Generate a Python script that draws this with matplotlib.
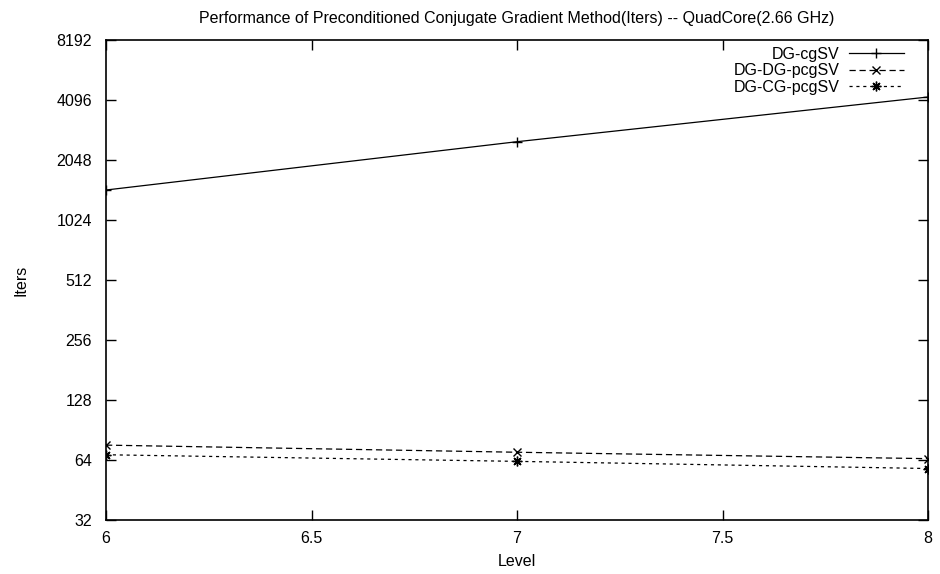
import matplotlib
matplotlib.use("Agg")
import matplotlib.pyplot as plt
from matplotlib.ticker import FixedLocator, FixedFormatter, NullLocator

plt.rcParams['font.family'] = ['Liberation Sans', 'DejaVu Sans']

levels = [6, 7, 8]
dg_cgsv = [1448, 2530, 4240]
dg_dg_pcgsv = [76, 70, 65]
dg_cg_pcgsv = [68, 63, 58]

x_ticks = [6, 6.5, 7, 7.5, 8]
x_tick_labels = ["6", "6.5", "7", "7.5", "8"]
y_ticks = [32, 64, 128, 256, 512, 1024, 2048, 4096, 8192]
y_tick_labels = [str(v) for v in y_ticks]

FS = 11.5

fig = plt.figure(figsize=(9.4, 5.74), dpi=100)
ax = fig.add_axes([106/940, 1-520/574, (928-106)/940, (520-40)/574])

ax.plot(levels, dg_cgsv, color='black', lw=0.9, ls='-', marker='+', ms=7, mew=1.0, label='DG-cgSV')
ax.plot(levels, dg_dg_pcgsv, color='black', lw=0.9, ls=(0, (5, 3)), marker='x', ms=6, mew=1.0, label='DG-DG-pcgSV')
ax.plot(levels, dg_cg_pcgsv, color='black', lw=0.9, ls=(0, (2.5, 3)), marker=(8, 2, 0), ms=7, mew=1.0, label='DG-CG-pcgSV')

ax.set_yscale('log', base=2)
ax.set_xlim(6, 8)
ax.set_ylim(32, 8192)
ax.xaxis.set_major_locator(FixedLocator(x_ticks))
ax.xaxis.set_major_formatter(FixedFormatter(x_tick_labels))
ax.yaxis.set_major_locator(FixedLocator(y_ticks))
ax.yaxis.set_major_formatter(FixedFormatter(y_tick_labels))
ax.yaxis.set_minor_locator(NullLocator())
ax.xaxis.set_minor_locator(NullLocator())
ax.tick_params(direction='in', length=7, width=1.0, top=True, right=True, labelsize=FS)
ax.tick_params(axis='y', pad=10)
ax.tick_params(axis='x', pad=8)
for s in ax.spines.values():
    s.set_linewidth(1.2)

ax.set_xlabel('Level', fontsize=FS, labelpad=6)
ax.set_ylabel('Iters', fontsize=FS, labelpad=20)
ax.set_title('Performance of Preconditioned Conjugate Gradient Method(Iters) -- QuadCore(2.66 GHz)', fontsize=FS, pad=12)

leg = ax.legend(loc='upper right', bbox_to_anchor=(0.982, 1.006), frameon=False, markerfirst=False,
                fontsize=FS, handlelength=3.4, labelspacing=0.1, handletextpad=0.6, borderaxespad=0.2)

fig.savefig('out.png', dpi=100)
